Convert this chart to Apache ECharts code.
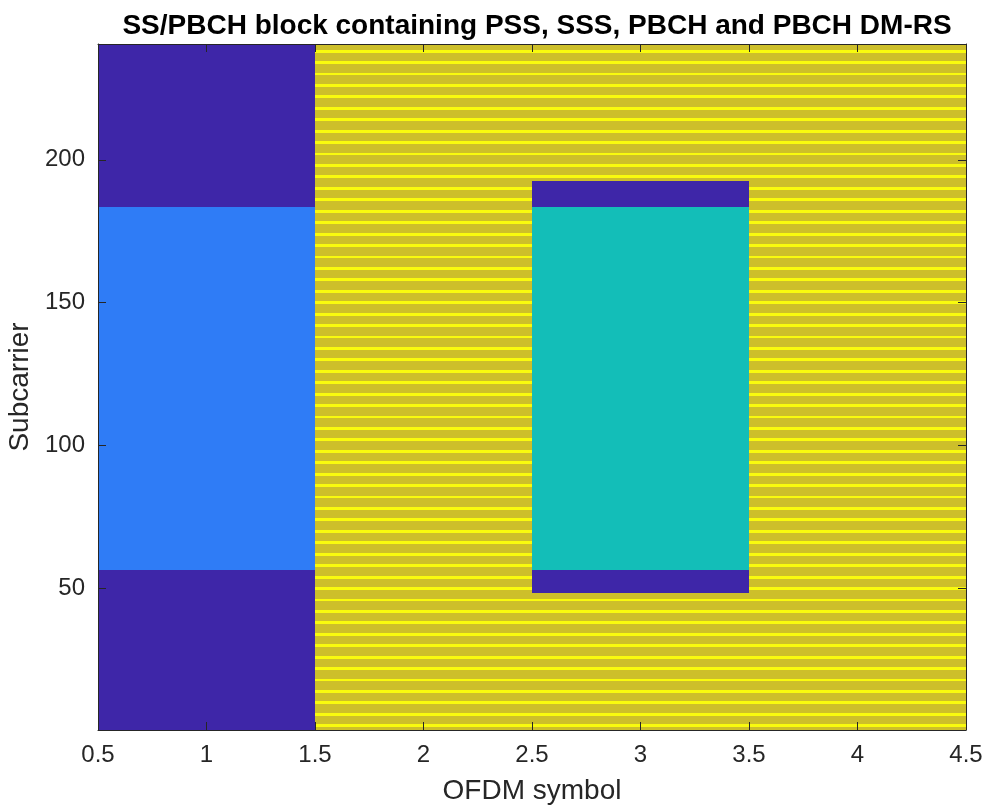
<!DOCTYPE html>
<html>
<head>
<meta charset="UTF-8">
<title>SS/PBCH block</title>
<script src="https://cdn.jsdelivr.net/npm/echarts@6/dist/echarts.min.js"></script>
<style>
  html, body { margin: 0; background: #fff; }
  #chart { width: 987px; height: 806px; }
</style>
</head>
<body>
<div id="chart"></div>
<script>
// grid values: 0 = unused, 1 = PSS, 2 = SSS, 3 = PBCH, 4 = PBCH DM-RS
const symbols = [1, 2, 3, 4];
const numSubcarriers = 240;
// per OFDM symbol: [first subcarrier, last subcarrier, value]
const symbolSegments = [
  [[1, 56, 0], [57, 183, 1], [184, 240, 0]],
  [[1, 240, 3]],
  [[1, 48, 3], [49, 56, 0], [57, 183, 2], [184, 192, 0], [193, 240, 3]],
  [[1, 240, 3]]
];
const dmrsSubcarriers = [
  2, 6, 10, 14, 18, 22, 26, 30, 34, 38, 42, 46, 50, 54, 58, 62, 66, 70, 74, 78,
  82, 86, 90, 94, 98, 102, 106, 110, 114, 118, 122, 126, 130, 134, 138, 142, 146, 150, 154, 158,
  162, 166, 170, 174, 178, 182, 186, 190, 194, 198, 202, 206, 210, 214, 218, 222, 226, 230, 234, 238
];
const xTicks = [0.5, 1, 1.5, 2, 2.5, 3, 3.5, 4, 4.5];
const yTicks = [50, 100, 150, 200];

const palette = ['#3e26a8', '#2f7cf6', '#13beb8', '#cdbf2a', '#f9fb0e'];
const textColor = '#262626';
const font = 'Liberation Sans, Arial, sans-serif';

const cells = [];
symbols.forEach((sym, i) => {
  for (let sc = 1; sc <= numSubcarriers; sc++) {
    const seg = symbolSegments[i].find(s => sc >= s[0] && sc <= s[1]);
    let v = seg[2];
    if (v === 3 && dmrsSubcarriers.includes(sc)) v = 4;
    cells.push([sym, sc, v]);
  }
});

const chart = echarts.init(document.getElementById('chart'));

const tickStyle = { show: true, inside: true, length: 8, lineStyle: { color: textColor, width: 1 } };
const lineStyle = { show: true, onZero: false, lineStyle: { color: textColor, width: 1 } };

chart.setOption({
  animation: false,
  title: {
    text: 'SS/PBCH block containing PSS, SSS, PBCH and PBCH DM-RS',
    left: 532, top: 7, textAlign: 'center',
    textStyle: { fontFamily: font, fontSize: 28, fontWeight: 'bold', color: '#000' }
  },
  grid: { left: 98, right: 21, top: 44, bottom: 76, containLabel: false, outerBoundsMode: 'none' },
  xAxis: [
    {
      type: 'value', min: 0.5, max: 4.5, interval: 0.5, position: 'bottom', z: 10,
      name: 'OFDM symbol', nameLocation: 'middle', nameGap: 47,
      nameTextStyle: { fontFamily: font, fontSize: 28, color: textColor },
      axisLine: lineStyle, axisTick: tickStyle, splitLine: { show: false },
      axisLabel: {
        margin: 13, fontFamily: font, fontSize: 24, color: textColor,
        formatter: v => String(v)
      }
    },
    {
      type: 'value', min: 0.5, max: 4.5, interval: 0.5, position: 'top', z: 10,
      axisLine: lineStyle, axisTick: tickStyle, axisLabel: { show: false }, splitLine: { show: false }
    }
  ],
  yAxis: [
    {
      type: 'value', min: 0.5, max: 240.5, position: 'left', z: 10,
      name: 'Subcarrier', nameLocation: 'middle', nameGap: 62,
      nameTextStyle: { fontFamily: font, fontSize: 28, color: textColor },
      axisLine: lineStyle,
      axisTick: Object.assign({ customValues: yTicks }, tickStyle),
      splitLine: { show: false },
      axisLabel: {
        customValues: yTicks, margin: 13,
        fontFamily: font, fontSize: 24, color: textColor
      }
    },
    {
      type: 'value', min: 0.5, max: 240.5, position: 'right', z: 10,
      axisLine: lineStyle,
      axisTick: Object.assign({ customValues: yTicks }, tickStyle),
      axisLabel: { show: false }, splitLine: { show: false }
    }
  ],
  series: [{
    type: 'custom',
    xAxisIndex: 0, yAxisIndex: 0,
    silent: true, z: 1,
    data: cells,
    renderItem(params, api) {
      const x = api.value(0), y = api.value(1);
      const p0 = api.coord([x - 0.5, y + 0.5]);
      const p1 = api.coord([x + 0.5, y - 0.5]);
      const x0 = Math.round(p0[0]), x1 = Math.round(p1[0]);
      const y0 = Math.round(p0[1]), y1 = Math.round(p1[1]);
      return {
        type: 'rect',
        shape: { x: x0, y: y0, width: x1 - x0, height: y1 - y0 },
        style: { fill: palette[api.value(2)] }
      };
    }
  }]
});
</script>
</body>
</html>
